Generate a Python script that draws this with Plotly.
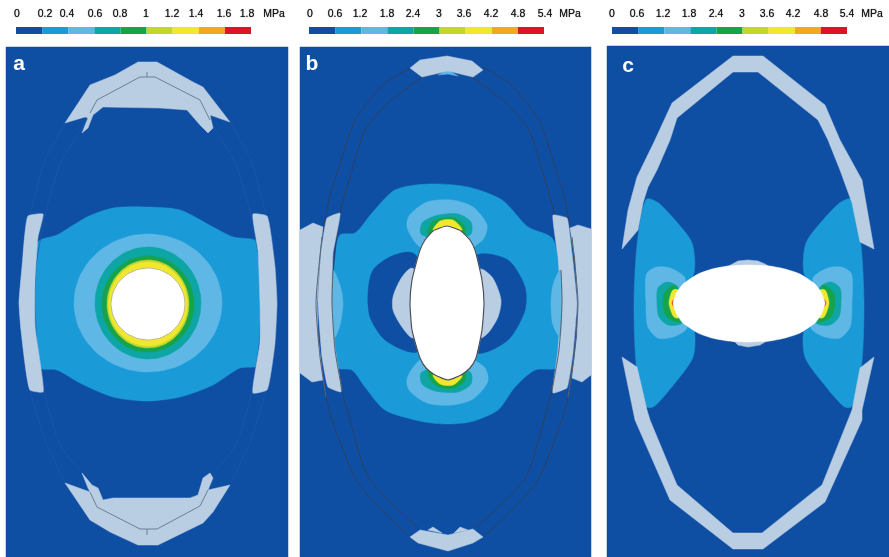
import numpy as np
import plotly.graph_objects as go

# ---- colour scale -------------------------------------------------------
BG = "#0f4fa3"; GREY = "#b9cde3"; MID = "#1a9bd7"; LIGHT = "#5fb7e6"; TEAL = "#0ea5a5"
GREEN = "#17a34a"; YGREEN = "#c3d62e"; YELLOW = "#f1e82d"; ORANGE = "#f4a720"; RED = "#dc1428"
scale_colors = [BG, MID, LIGHT, TEAL, GREEN, YGREEN, YELLOW, ORANGE, RED]

# ---- colour bar labels --------------------------------------------------
labels_a = ["0", "0.2", "0.4", "0.6", "0.8", "1", "1.2", "1.4", "1.6", "1.8", "MPa"]
labels_bc = ["0", "0.6", "1.2", "1.8", "2.4", "3", "3.6", "4.2", "4.8", "5.4", "MPa"]
label_x_a = [17, 45, 67, 95, 120, 146, 172, 196, 224, 247, 274]
label_x_b = [310, 335, 360, 387, 413, 439, 464, 491, 518, 545, 570]
label_x_c = [612, 637, 663, 689, 716, 742, 767, 793, 821, 847, 872]
bar_span_a = (16, 251)
bar_span_b = (309, 544)
bar_span_c = (612, 847)

# ---- panels -------------------------------------------------------------
panel_a = [(6, 47), (288, 47), (288, 557), (6, 557)]
panel_b = [(300, 47), (591, 47), (591, 557), (300, 557)]
panel_c = [(607, 46), (889, 46), (889, 557), (607, 557)]

# ---- panel a ------------------------------------------------------------
a_cap_top = [(138, 62), (157, 62), (193, 82), (203, 87), (230, 122), (210, 115), (213, 128), (208, 133),
             (200, 125), (187, 110), (160, 108), (103, 107), (93, 115), (88, 128), (82, 133), (88, 118),
             (85, 117), (65, 123), (90, 85), (115, 75)]
a_cap_bottom = [(138, 545), (158, 545), (203, 523), (213, 512), (230, 485), (208, 490), (213, 478), (210, 473),
                (203, 478), (198, 495), (190, 498), (113, 498), (103, 500), (98, 488), (92, 485), (82, 473),
                (88, 488), (90, 492), (65, 483), (90, 520), (110, 532)]
a_line_top = [(90, 113), (97, 100), (140, 77), (155, 77), (200, 100), (210, 120)]
a_tick_top = [(147, 72), (147, 77)]
a_line_bottom = [(90, 492), (97, 507), (140, 529), (157, 529), (200, 506), (208, 490)]
a_tick_bottom = [(147, 529), (147, 535)]
a_plate_left = [(28, 216), (43, 214), (38, 237), (35, 280), (35, 327), (43, 392), (30, 390), (21, 330), (19, 303), (22, 267)]
a_plate_right = [(253, 214), (267, 216), (275, 267), (277, 303), (275, 343), (267, 390), (253, 393), (260, 343), (260, 303), (258, 250)]
a_mid = [(38, 242), (57, 235), (87, 217), (113, 208), (147, 207), (180, 210), (213, 227), (233, 237), (258, 242),
         (260, 303), (260, 365), (240, 368), (213, 385), (180, 397), (147, 401), (113, 397), (80, 383), (57, 370), (38, 367), (35, 303)]
a_outline_outer_l = [(66, 122), (45, 160), (30, 215), (22, 267), (19, 303), (22, 340), (30, 390), (45, 440), (65, 483)]
a_outline_inner_l = [(88, 118), (60, 165), (45, 215), (36, 267), (35, 303), (37, 345), (45, 395), (60, 445), (82, 473)]
# concentric rings of panel a: centre x, centre y, x radius, y radius, colour
a_rings = [(148, 303, 74, 69, LIGHT), (148, 303, 53, 56, TEAL), (148, 304, 46, 48, GREEN),
           (148, 304, 41, 44, YGREEN), (148, 304, 39.5, 42, YELLOW), (148, 304, 37, 36, "#ffffff")]

# ---- panel b ------------------------------------------------------------
b_cap_top = [(410, 68), (420, 60), (447, 56), (472, 61), (483, 70), (473, 77), (448, 71), (422, 77)]
b_cap_bottom = [(410, 537), (420, 530), (448, 535), (473, 529), (483, 537), (473, 543), (448, 551), (418, 543)]
b_bump_top = [(438, 75), (448, 70), (458, 76), (448, 74)]
b_bump_bottom_l = [(428, 530), (433, 527), (442, 533)]
b_bump_bottom_r = [(454, 533), (460, 527), (468, 530)]
b_outer_l = [(412, 67), (385, 83), (355, 120), (338, 170), (330, 195), (322, 237), (316, 303),
             (320, 357), (326, 397), (332, 420), (358, 483), (408, 535)]
b_inner_l = [(422, 77), (388, 103), (365, 130), (352, 170), (340, 213), (333, 270), (332, 303),
             (335, 350), (342, 390), (350, 420), (368, 477), (418, 528)]
b_plate_l = [(327, 218), (340, 213), (333, 253), (332, 303), (335, 347), (341, 392), (328, 387), (322, 357), (318, 303), (321, 253)]
b_plate_r = [(553, 215), (567, 218), (572, 253), (577, 303), (573, 353), (567, 388), (553, 393), (558, 350), (561, 303), (558, 257)]
b_patch_l = [(300, 230), (313, 223), (323, 227), (320, 253), (317, 303), (318, 337), (323, 380), (312, 382), (300, 373)]
b_patch_r = [(570, 228), (578, 225), (591, 229), (591, 375), (582, 382), (572, 378), (577, 337), (578, 303), (575, 257)]
b_mid = [(340, 235), (355, 233), (372, 213), (395, 190), (428, 184), (468, 187), (502, 200), (528, 227), (552, 238),
         (560, 270), (561, 303), (558, 367), (535, 370), (515, 387), (498, 410), (470, 422), (447, 424), (425, 422),
         (385, 410), (365, 387), (352, 370), (338, 368), (335, 350), (333, 303), (335, 260)]
b_light_side_l = [(333, 270), (340, 285), (343, 303), (340, 325), (335, 337)]
b_light_side_r = [(560, 270), (553, 285), (551, 303), (553, 325), (560, 337)]
b_blob_l = [(413, 253), (392, 256), (373, 270), (368, 293), (370, 317), (385, 340), (417, 352), (440, 303)]
b_blob_r = [(477, 255), (508, 260), (525, 287), (525, 310), (508, 340), (477, 353), (450, 303)]
b_grey_l = [(412, 268), (402, 277), (393, 297), (393, 310), (402, 327), (413, 338), (430, 303)]
b_grey_r = [(480, 269), (492, 277), (501, 300), (498, 317), (488, 333), (480, 338), (460, 303)]
b_lobe_top_light = [(407, 227), (409, 216), (427, 202), (452, 200), (473, 207), (487, 225), (484, 238), (473, 247), (450, 250), (420, 247)]
b_lobe_top_teal = [(421, 234), (422, 223), (435, 216), (458, 214), (471, 222), (471, 234), (450, 240)]
b_lobe_top_green = [(428, 234), (432, 222), (442, 218), (455, 218), (465, 227), (465, 234), (448, 240)]
b_lobe_top_yellow = [(433, 231), (440, 221), (453, 220), (462, 230), (448, 236)]
b_lobe_bot_light = [(407, 379), (409, 390), (427, 403), (452, 405), (473, 399), (488, 381), (485, 368), (473, 360), (450, 355), (420, 360)]
b_lobe_bot_teal = [(421, 373), (422, 384), (435, 391), (458, 392), (471, 384), (471, 373), (450, 365)]
b_lobe_bot_green = [(428, 372), (432, 382), (442, 388), (455, 388), (465, 380), (465, 372), (448, 366)]
b_lobe_bot_yellow = [(433, 375), (440, 384), (453, 385), (462, 376), (448, 370)]
b_hole = [(447, 226), (433, 231), (425, 240), (420, 250), (412, 280), (410, 303), (412, 330), (420, 358), (426, 368), (435, 375), (448, 380),
          (461, 375), (470, 368), (476, 358), (482, 330), (484, 303), (482, 280), (475, 250), (470, 240), (461, 231)]

# ---- panel c ------------------------------------------------------------
c_ring_top = [(622, 249), (628, 210), (637, 177), (655, 140), (672, 103), (733, 56), (763, 56), (825, 105), (840, 140),
              (862, 180), (874, 249), (860, 242), (852, 203), (840, 170), (828, 140), (818, 120), (758, 72), (733, 72),
              (677, 118), (670, 140), (657, 170), (648, 187), (643, 203), (638, 230)]
c_ring_bottom = [(622, 357), (637, 367), (647, 410), (650, 420), (677, 485), (733, 533), (762, 533), (822, 485), (848, 420),
                 (852, 410), (860, 368), (874, 357), (862, 410), (862, 420), (825, 502), (763, 549), (733, 549), (670, 500), (635, 420), (633, 410)]
c_mid_l = [(647, 199), (657, 202), (675, 220), (692, 243), (694, 273), (678, 303), (694, 330), (693, 357), (675, 383),
           (653, 407), (647, 407), (637, 370), (634, 303), (638, 237)]
c_mid_r = [(851, 199), (841, 202), (823, 220), (806, 243), (804, 273), (820, 303), (804, 330), (805, 357), (823, 383),
           (845, 407), (851, 407), (861, 370), (864, 303), (860, 237)]
c_light_l = [(647, 273), (657, 267), (670, 268), (685, 278), (680, 303), (687, 328), (673, 337), (658, 338), (648, 327), (646, 303)]
c_light_r = [(851, 273), (841, 267), (828, 268), (813, 278), (818, 303), (811, 328), (825, 337), (840, 338), (850, 327), (852, 303)]
c_teal_l = [(657, 303), (658, 288), (667, 282), (678, 287), (682, 323), (668, 325), (659, 317)]
c_teal_r = [(841, 303), (840, 288), (831, 282), (820, 287), (816, 323), (830, 325), (839, 317)]
c_green_l = [(663, 303), (665, 292), (675, 285), (680, 322), (667, 317)]
c_green_r = [(835, 303), (833, 292), (823, 285), (818, 322), (831, 317)]
c_yellow_l = [(669, 303), (673, 290), (678, 290), (678, 318), (674, 317)]
c_yellow_r = [(829, 303), (825, 290), (820, 290), (820, 318), (824, 317)]
c_red_l = [(672, 303), (675, 298), (675, 308)]
c_red_r = [(826, 303), (823, 298), (823, 308)]
c_bump_top = [(725, 268), (733, 264), (738, 261), (748, 260), (758, 261), (765, 264), (772, 268)]
c_bump_bottom = [(725, 339), (735, 342), (738, 345), (748, 347), (760, 345), (765, 342), (772, 339)]
c_hole = [(673, 303), (677, 292), (683, 284), (698, 274), (712, 269), (728, 266), (748, 265), (770, 266), (785, 269), (800, 274),
          (815, 284), (821, 292), (825, 303), (821, 315), (815, 323), (800, 333), (785, 338), (770, 341), (748, 342),
          (728, 341), (712, 338), (698, 333), (683, 323), (677, 315)]

fig = go.Figure()


def poly(pts, color, smooth=0):
    xs, ys = zip(*pts)
    style = dict(color=color, width=0.5)
    if smooth:
        style.update(shape="spline", smoothing=smooth)
    fig.add_trace(go.Scatter(x=list(xs) + [xs[0]], y=list(ys) + [ys[0]], mode="lines", fill="toself",
                             fillcolor=color, line=style, hoverinfo="skip"))


def line(pts, color, width=1.0, mirror_x=None, smooth=0):
    xs, ys = zip(*pts)
    style = dict(color=color, width=width)
    if smooth:
        style.update(shape="spline", smoothing=smooth)
    fig.add_trace(go.Scatter(x=list(xs), y=list(ys), mode="lines", line=style, hoverinfo="skip"))
    if mirror_x is not None:
        fig.add_trace(go.Scatter(x=[2 * mirror_x - v for v in xs], y=list(ys), mode="lines", line=style, hoverinfo="skip"))


def ring(cx, cy, rx, ry, color):
    t = np.linspace(0, 2 * np.pi, 80)
    pts = list(zip(cx + rx * np.cos(t), cy + ry * np.sin(t)))
    poly(pts, color)
    return pts


# panel a
poly(panel_a, BG)
poly(a_mid, MID, 0.8)
for r in a_rings:
    hole_a = ring(*r)
line(hole_a, "#8f8c60", 0.6)
line(a_outline_outer_l, "#2058a8", 0.7, mirror_x=148, smooth=0.5)
line(a_outline_inner_l, "#2058a8", 0.7, mirror_x=148, smooth=0.5)
for p in (a_cap_top, a_cap_bottom):
    poly(p, GREY)
for p in (a_plate_left, a_plate_right):
    poly(p, GREY, 0.4)
for l in (a_line_top, a_tick_top, a_line_bottom, a_tick_bottom):
    line(l, "#6f7f8e", 1.0)

# panel b
poly(panel_b, BG)
poly(b_mid, MID, 0.8)
for p in (b_blob_l, b_blob_r):
    poly(p, BG, 0.8)
for p in (b_grey_l, b_grey_r):
    poly(p, GREY, 0.8)
for group, col in ((b_lobe_top_light, LIGHT), (b_lobe_top_teal, TEAL), (b_lobe_top_green, GREEN), (b_lobe_top_yellow, YELLOW),
                   (b_lobe_bot_light, LIGHT), (b_lobe_bot_teal, TEAL), (b_lobe_bot_green, GREEN), (b_lobe_bot_yellow, YELLOW)):
    poly(group, col, 0.8)
line(b_outer_l, "#2f3f60", 1.0, mirror_x=447, smooth=0.6)
line(b_inner_l, "#2f3f60", 1.0, mirror_x=447, smooth=0.6)
for p in (b_bump_bottom_l, b_bump_bottom_r):
    poly(p, GREY)
poly(b_bump_top, LIGHT)
for p in (b_cap_top, b_cap_bottom, b_patch_l, b_patch_r):
    poly(p, GREY)
poly(b_plate_l, GREY, 0.3)
poly(b_plate_r, GREY, 0.3)
poly(b_light_side_l, LIGHT, 0.8)
poly(b_light_side_r, LIGHT, 0.8)
line(b_outer_l[5:9], "#5a6472", 1.0, mirror_x=447, smooth=0.6)
line(b_inner_l[5:9], "#5a6472", 1.0, mirror_x=447, smooth=0.6)
poly(b_hole, "#ffffff", 0.5)
xs, ys = zip(*b_hole)
fig.add_trace(go.Scatter(x=list(xs) + [xs[0]], y=list(ys) + [ys[0]], mode="lines",
                         line=dict(color="#4a4f57", width=1.2, shape="spline", smoothing=0.5), hoverinfo="skip"))

# panel c
poly(panel_c, BG)
for p, col in ((c_mid_l, MID), (c_mid_r, MID), (c_light_l, LIGHT), (c_light_r, LIGHT), (c_teal_l, TEAL), (c_teal_r, TEAL),
               (c_green_l, GREEN), (c_green_r, GREEN), (c_yellow_l, YELLOW), (c_yellow_r, YELLOW), (c_red_l, RED), (c_red_r, RED)):
    poly(p, col, 0.8)
for p in (c_ring_top, c_ring_bottom, c_bump_top, c_bump_bottom):
    poly(p, GREY)
poly(c_hole, "#ffffff", 0.5)

# colour bars
for span in (bar_span_a, bar_span_b, bar_span_c):
    w = (span[1] - span[0]) / len(scale_colors)
    for i, col in enumerate(scale_colors):
        fig.add_trace(go.Bar(x=[w], base=[span[0] + i * w], y=[30.5], width=[7], orientation="h",
                             marker=dict(color=col, line=dict(width=0)), hoverinfo="skip"))

# colour bar labels
for xs, labs in ((label_x_a, labels_a), (label_x_b, labels_bc), (label_x_c, labels_bc)):
    fig.add_trace(go.Scatter(x=xs, y=[14] * len(xs), mode="text", text=labs, textposition="middle center",
                             textfont=dict(family="Liberation Sans", size=10.5, color="#111111", shadow="0 0 1px #444444"),
                             hoverinfo="skip"))

# panel letters
fig.add_trace(go.Scatter(x=[19, 312, 628], y=[65, 65, 67], mode="text", text=["a", "b", "c"], textposition="middle center",
                         textfont=dict(family="Liberation Sans", size=21, color="#ffffff", weight="bold"), hoverinfo="skip"))

fig.update_layout(width=889, height=557, margin=dict(l=0, r=0, t=0, b=0), showlegend=False, barmode="overlay",
                  paper_bgcolor="#ffffff", plot_bgcolor="#ffffff",
                  xaxis=dict(range=[0, 889], visible=False, fixedrange=True),
                  yaxis=dict(range=[557, 0], visible=False, fixedrange=True))
fig.write_html("out.html", config=dict(displayModeBar=False),
               post_script="document.body.style.margin='0';document.body.style.overflow='hidden';"
                           "document.querySelector('.plotly-graph-div').style.filter='blur(0.5px)';")
